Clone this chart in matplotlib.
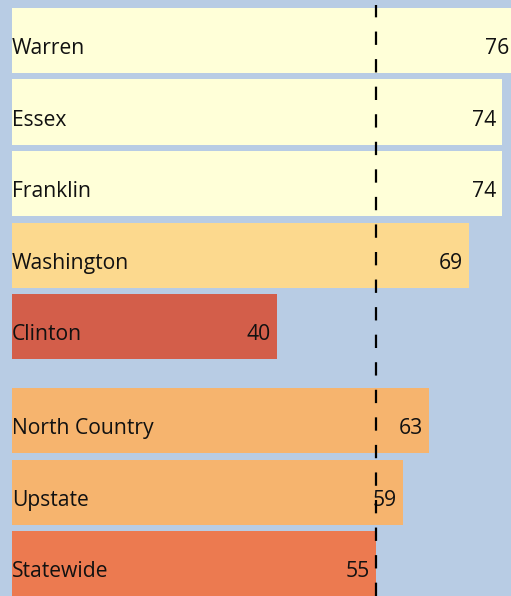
import matplotlib
matplotlib.use("Agg")
import matplotlib.pyplot as plt
from matplotlib.transforms import ScaledTranslation

categories = ["Warren", "Essex", "Franklin", "Washington", "Clinton",
              "North Country", "Upstate", "Statewide"]
values = [76, 74, 74, 69, 40, 63, 59, 55]
colors = ["#FFFFD8", "#FFFFD8", "#FFFFD8", "#FCD98E", "#D35E4A",
          "#F6B46E", "#F6B46E", "#EC7A50"]
reference_value = 55

bg = "#B8CCE4"
plt.rcParams["font.family"] = ["Open Sans", "DejaVu Sans"]

fig = plt.figure(figsize=(5.11, 5.96), dpi=100)
fig.patch.set_facecolor(bg)
ax = fig.add_axes([0, 0, 1, 1])
ax.set_facecolor(bg)

# positions: a gap after the county group
positions = []
for i in range(len(categories)):
    positions.append(i + (0.315 if i >= 5 else 0))

ax.barh(positions, values, height=0.91, color=colors, zorder=2)

dpi = fig.dpi
for p, v, c in zip(positions, values, categories):
    ax.text(0.0, p, c, ha="left", va="center", fontsize=15.2, color="#111111",
            transform=ax.transData + ScaledTranslation(0, -8 / dpi, fig.dpi_scale_trans),
            zorder=3)
    ax.text(v, p, str(v), ha="right", va="center", fontsize=15.2, color="#111111",
            transform=ax.transData + ScaledTranslation(-6 / dpi, -8 / dpi, fig.dpi_scale_trans),
            zorder=3)

ax.axvline(reference_value, ymin=0, ymax=0.992, color="black", lw=1.6,
           linestyle=(0, (6.0, 6.4)), zorder=4)

ax.set_xlim(-12 / 6.62, 499 / 6.62)
ax.set_ylim(positions[-1] + 0.45, -0.566)
ax.axis("off")

fig.savefig("out.png", dpi=100, facecolor=bg)
